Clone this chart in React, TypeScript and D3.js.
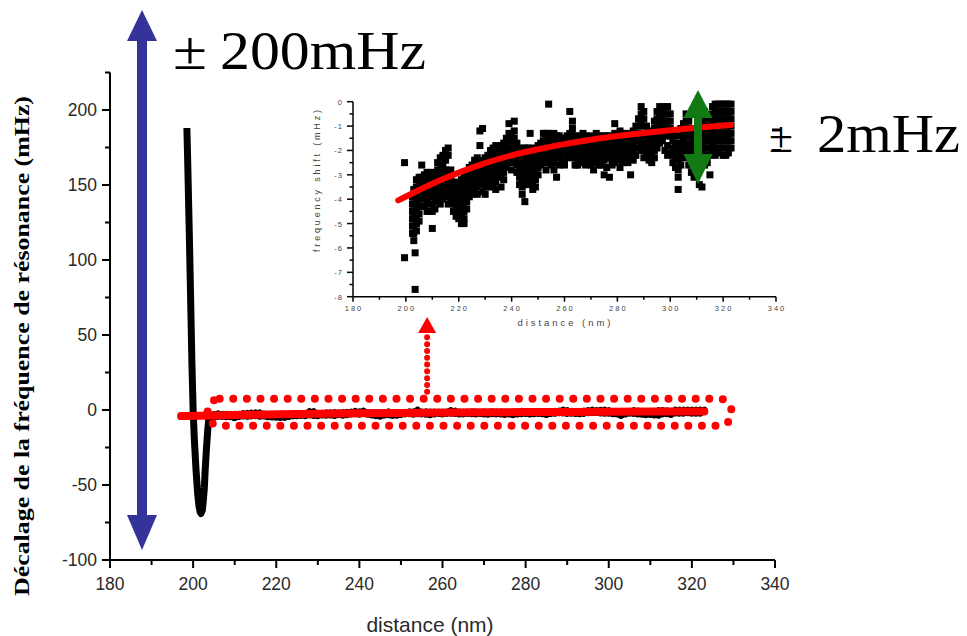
import React from "react";
import * as d3 from "d3";

// ---------- Main plot data (resonance frequency shift, mHz) ----------
const mainDist = [198.5, 198.7, 198.9, 199.1, 199.3, 199.5, 199.7, 200.0, 200.3, 200.7, 201.1, 201.4, 201.7, 201.9, 202.2, 202.4, 202.7, 202.9, 203.2, 203.5, 203.8];
const mainShift = [188, 165, 140, 115, 88, 60, 32, 0, -20, -40, -56, -64, -68, -69, -67, -62, -52, -40, -26, -14, -5];

// ---------- Inset scatter data: [distance nm, [frequency shift values mHz]] ----------
const insetColumns: [number, number[]][] = [
  [199.5, [-2.5, -6.4]],
  [202.5, [-3.9, -4.2, -4.5, -4.8, -5.1, -5.4]],
  [203, [-3.6, -3.9, -4.2, -4.5, -4.8, -5.1, -5.4, -5.7]],
  [203.5, [-6.2, -7.7]],
  [204, [-3.2, -3.5, -3.8, -4.1, -4.4, -4.7, -5.0, -5.3]],
  [205, [-3.1, -3.4, -3.7, -4.0, -4.3, -4.6, -4.9]],
  [206, [-2.6, -3.1, -3.4, -3.7, -4.0, -4.3]],
  [207, [-3.0, -3.3, -3.6, -3.9, -4.3]],
  [208, [-2.9, -3.2, -3.5, -3.8, -4.1, -4.5]],
  [209, [-2.9, -3.2, -3.5, -3.8, -4.2, -4.5]],
  [210, [-3.0, -3.3, -3.6, -3.9, -4.2, -4.5, -5.2]],
  [211, [-2.9, -3.2, -3.5, -3.8, -4.1, -4.4]],
  [212, [-2.5, -2.8, -3.1, -3.4, -3.7, -4.0]],
  [213, [-2.3, -2.6, -3.0, -3.3, -3.6, -3.9, -4.2]],
  [214, [-2.2, -2.6, -2.9, -3.2, -3.5, -3.8, -4.0]],
  [215, [-2.0, -2.4, -2.8, -3.1, -3.5, -3.8]],
  [216, [-1.9, -2.2, -3.0, -3.3, -3.6, -3.9, -4.2]],
  [217, [-2.8, -3.1, -3.4, -3.7, -4.0]],
  [218, [-3.3, -3.6, -3.9, -4.2, -4.5]],
  [219, [-3.5, -3.8, -4.1, -4.4, -4.7]],
  [220, [-3.3, -3.6, -3.9, -4.2, -4.5, -4.8]],
  [221, [-3.2, -3.5, -3.8, -4.1, -4.4, -4.7, -5.0]],
  [222, [-3.0, -3.3, -3.6, -3.9, -4.2, -4.5, -4.8, -5.0]],
  [223, [-2.9, -3.2, -3.5, -3.8, -4.1, -4.4]],
  [224, [-2.7, -3.0, -3.3, -3.6, -3.9]],
  [225, [-2.6, -2.9, -3.2, -3.5, -3.8]],
  [226, [-2.4, -2.7, -3.0, -3.3, -3.6]],
  [227, [-2.3, -2.6, -2.9, -3.2, -3.5, -3.8]],
  [228, [-1.2, -1.8, -2.4, -2.7, -3.0, -3.3]],
  [229, [-1.1, -2.5, -2.8, -3.1, -3.4, -3.7]],
  [230, [-2.3, -2.6, -2.9, -3.2, -3.5, -3.8]],
  [231, [-2.2, -2.5, -2.8, -3.1, -3.4]],
  [232, [-2.0, -2.3, -2.6, -2.9, -3.2, -3.5]],
  [233, [-1.9, -2.2, -2.5, -2.8, -3.1, -3.4]],
  [234, [-1.8, -2.1, -2.4, -2.7, -3.0, -3.3, -3.6]],
  [235, [-1.9, -2.2, -2.5, -2.8, -3.1]],
  [236, [-1.8, -2.1, -2.4, -2.7, -3.0, -3.5]],
  [237, [-1.7, -2.0, -2.3, -2.6, -2.9, -3.2]],
  [238, [-1.5, -1.8, -2.1, -2.4, -2.7]],
  [239, [-0.9, -1.3, -1.6, -1.9, -2.2, -2.5]],
  [240, [-1.3, -1.6, -1.9, -2.2, -2.5, -2.8]],
  [241, [-0.8, -1.2, -1.5, -1.8, -2.1, -2.4]],
  [242, [-1.7, -2.0, -2.3, -2.6, -2.9]],
  [243, [-1.9, -2.2, -2.5, -2.8, -3.1, -3.4]],
  [244, [-2.0, -2.3, -2.6, -2.9, -3.2, -3.5, -3.8]],
  [245, [-1.9, -2.2, -2.5, -2.8, -3.1, -3.4, -4.1]],
  [246, [-1.9, -2.2, -2.5, -2.8, -3.1, -3.4]],
  [247, [-1.3, -2.0, -2.3, -2.6, -2.9, -3.2]],
  [248, [-1.9, -2.2, -2.5, -2.8, -3.1, -3.4, -3.6]],
  [249, [-2.0, -2.3, -2.6, -2.9, -3.2, -3.5]],
  [250, [-1.8, -2.1, -2.4, -2.7, -3.0]],
  [251, [-1.7, -2.0, -2.3, -2.6]],
  [252, [-1.3, -1.6, -1.9, -2.2, -2.5]],
  [253, [-1.3, -1.6, -1.9, -2.2, -2.5, -2.8]],
  [254, [-0.1, -1.3, -1.6, -1.9, -2.2, -2.5]],
  [255, [-1.4, -1.7, -2.0, -2.3, -2.6]],
  [256, [-1.3, -1.6, -1.9, -2.2, -2.5, -2.8]],
  [257, [-1.4, -1.7, -2.0, -2.3, -3.1]],
  [258, [-1.4, -1.7, -2.0, -2.3, -2.6]],
  [259, [-1.5, -1.8, -2.1, -2.4]],
  [260, [-1.5, -1.8, -2.1, -2.4, -2.6]],
  [261, [-1.4, -1.7, -2.0, -2.3]],
  [262, [-0.4, -1.3, -1.6, -1.9, -2.2]],
  [263, [-0.8, -1.1, -1.4, -1.7, -2.0, -2.3]],
  [264, [-1.4, -1.7, -2.0, -2.3, -2.6]],
  [265, [-1.5, -1.8, -2.1, -2.4, -2.6]],
  [266, [-1.4, -1.7, -2.0, -2.3]],
  [267, [-1.3, -1.6, -1.9, -2.2, -2.5]],
  [268, [-1.4, -1.7, -2.0, -2.3, -2.6]],
  [269, [-1.5, -1.8, -2.1, -2.4]],
  [270, [-1.4, -1.7, -2.0, -2.3, -2.6]],
  [271, [-1.5, -1.8, -2.1, -2.4, -2.8]],
  [272, [-1.3, -1.6, -1.9, -2.2, -2.5]],
  [273, [-1.4, -1.7, -2.0, -2.3, -2.6]],
  [274, [-1.4, -1.7, -2.0, -2.3, -2.6]],
  [275, [-1.5, -1.8, -2.1, -2.4, -3.0]],
  [276, [-1.4, -1.7, -2.0, -2.3, -2.7]],
  [277, [-1.4, -1.7, -2.0, -2.3, -3.1]],
  [278, [-1.5, -1.8, -2.1, -2.4, -2.6]],
  [279, [-0.9, -1.3, -1.6, -1.9, -2.2, -2.5]],
  [280, [-1.4, -1.7, -2.0, -2.3]],
  [281, [-1.2, -1.5, -1.8, -2.1, -2.4, -2.7]],
  [282, [-1.3, -1.6, -1.9, -2.2, -2.5]],
  [283, [-1.4, -1.7, -2.0, -2.3]],
  [284, [-1.3, -1.6, -1.9, -2.2, -2.5]],
  [285, [-1.4, -1.7, -2.0, -2.3, -3.0]],
  [286, [-1.2, -1.5, -1.8, -2.1, -2.4]],
  [287, [-1.0, -1.3, -1.6, -1.9, -2.2]],
  [288, [-0.7, -1.0, -1.3, -1.6, -1.9]],
  [289, [-0.2, -0.5, -0.8, -1.4, -1.7, -2.0]],
  [290, [-0.4, -0.7, -1.0, -1.4, -1.7, -2.0, -2.3]],
  [291, [-1.0, -1.3, -1.6, -1.9, -2.2]],
  [292, [-1.2, -1.5, -1.8, -2.1, -2.4]],
  [293, [-1.3, -1.6, -1.9, -2.2, -2.5]],
  [294, [-0.8, -1.1, -1.4, -1.7, -2.0, -2.3]],
  [295, [-0.4, -0.7, -1.0, -1.3, -1.6, -1.9]],
  [296, [-0.2, -0.5, -0.8, -1.1, -1.4, -1.7]],
  [297, [-0.4, -0.7, -1.0, -1.3, -1.6]],
  [298, [-0.2, -0.5, -0.8, -1.1, -1.4, -2.0]],
  [299, [-0.2, -0.5, -0.8, -1.1, -1.4, -1.8, -2.2]],
  [300, [-0.5, -0.8, -1.1, -1.4, -2.1]],
  [301, [-1.3, -1.6, -1.9, -2.2, -2.5]],
  [302, [-1.4, -1.7, -2.0, -2.3, -2.7]],
  [303, [-1.8, -2.1, -2.4, -2.8, -3.1, -3.6]],
  [304, [-1.1, -1.4, -1.7, -2.0, -2.3, -2.6]],
  [305, [-0.9, -1.2, -1.5, -1.8, -2.1]],
  [306, [-0.5, -0.8, -1.1, -1.4, -1.7, -2.0, -2.3]],
  [307, [-0.8, -1.1, -1.4, -1.7, -2.0, -2.6]],
  [308, [-1.1, -1.4, -1.7, -2.0, -2.3, -2.6, -2.9]],
  [309, [-1.3, -1.6, -1.9, -2.2, -2.5, -2.8, -3.1]],
  [310, [-1.2, -1.5, -1.8, -2.1, -2.4, -2.7, -3.0]],
  [311, [-0.9, -1.2, -1.5, -1.8, -2.1, -2.4, -3.4]],
  [312, [-0.5, -0.8, -1.1, -1.4, -1.7, -2.0, -2.4, -3.5]],
  [313, [-0.4, -0.7, -1.0, -1.3, -1.6, -1.9, -2.2, -2.6]],
  [314, [-0.7, -1.0, -1.3, -1.6, -1.9, -2.2, -2.5]],
  [315, [-1.0, -1.3, -1.6, -1.9, -2.2, -3.0]],
  [316, [-0.2, -0.5, -0.8, -1.1, -1.4, -1.7, -2.0]],
  [317, [-0.1, -0.4, -0.7, -1.0, -1.3, -1.6, -1.9, -2.2]],
  [318, [-0.1, -0.4, -0.7, -1.0, -1.3, -1.6, -1.9, -2.1]],
  [319, [-0.1, -0.4, -0.7, -1.0, -1.3, -1.6, -1.9]],
  [320, [-0.1, -0.4, -0.7, -1.0, -1.3, -1.6, -1.9, -2.2]],
  [321, [-0.1, -0.4, -0.7, -1.0, -1.3, -1.6, -1.9, -2.2]],
  [322, [-0.1, -0.4, -0.7, -1.0, -1.3, -1.6, -1.9, -2.1]],
  [323, [-0.1, -0.4, -0.7, -1.0, -1.3, -1.6, -1.9]],
];

// ---------- Fit curve (red) ----------
const fitDist = [197.1, 205, 213, 221, 230, 240, 250, 260, 270, 280, 290, 300, 310, 323];
const fitShift = [-4.05, -3.62, -3.22, -2.87, -2.52, -2.2, -1.95, -1.74, -1.56, -1.41, -1.28, -1.17, -1.07, -0.96];

// ---------- Ticks ----------
const mainXMajor = [180, 200, 220, 240, 260, 280, 300, 320, 340];
const mainXMinor = [190, 210, 230, 250, 270, 290, 310, 330];
const mainYMajor = [-100, -50, 0, 50, 100, 150, 200];
const mainYMinor = [-75, -25, 25, 75, 125, 175, 225];
const insetYMajor = [0, -1, -2, -3, -4, -5, -6, -7, -8];
const insetYMinor = [-0.5, -1.5, -2.5, -3.5, -4.5, -5.5, -6.5, -7.5];

const yTitle = "Décalage de la fréquence de résonance (mHz)";
const xTitle = "distance (nm)";
const insetYTitle = "frequency shift (mHz)";

export default function App() {
  // main scales
  const x = d3.scaleLinear().domain([180, 340]).range([110, 775]);
  const y = d3.scaleLinear().domain([-100, 225]).range([560, 72.5]);
  // inset scales
  const xi = d3.scaleLinear().domain([180, 340]).range([353, 776]);
  const yi = d3.scaleLinear().domain([-8, 0]).range([296.7, 101.7]);

  const insetPts: [number, number][] = [];
  insetColumns.forEach(([d, vs]) => vs.forEach((v) => insetPts.push([d, v])));
  const tail = insetPts.filter((p) => p[0] > 204);

  const mainPts: [number, number][] = mainDist.map((d, i) => [d, mainShift[i]]);
  const mainAll = mainPts.concat(tail);
  const fitPts: [number, number][] = fitDist.map((d, i) => [d, fitShift[i]]);

  const mainLine = d3.line<[number, number]>().x((d) => x(d[0])).y((d) => y(d[1]));
  const mainFit = d3.line<[number, number]>().x((d) => x(d[0])).y((d) => y(d[1])).curve(d3.curveMonotoneX);
  const insetFit = d3.line<[number, number]>().x((d) => xi(d[0])).y((d) => yi(d[1])).curve(d3.curveMonotoneX);

  const sans = "'Liberation Sans', Arial, sans-serif";
  const serif = "'Liberation Serif', 'Times New Roman', serif";
  const tickCol = "#2a2a2a";

  // annotation geometry derived from scales
  const rx0 = x(203.5), rx1 = x(329.5), ry0 = y(7.5), ry1 = y(-10.5);
  const ax = x(256.3);
  const bx = x(187.7);
  const gx = xi(310.5);

  return (
    <svg width={967} height={636} style={{ position: "absolute", left: 0, top: 0, background: "#fff" }}>
      <rect x={0} y={0} width={967} height={636} fill="#fff" />

      {/* ---------- Main axes ---------- */}
      <g stroke="#000" strokeWidth={2}>
        <line x1={x(180)} x2={x(340)} y1={y(-100)} y2={y(-100)} />
        <line x1={x(180)} x2={x(180)} y1={y(-100)} y2={y(225)} />
        {mainXMajor.map((t) => (
          <line key={"xM" + t} x1={x(t)} x2={x(t)} y1={y(-100)} y2={y(-100) + 8} />
        ))}
        {mainXMinor.map((t) => (
          <line key={"xm" + t} x1={x(t)} x2={x(t)} y1={y(-100)} y2={y(-100) + 5} />
        ))}
        {mainYMajor.map((t) => (
          <line key={"yM" + t} x1={x(180) - 8} x2={x(180)} y1={y(t)} y2={y(t)} />
        ))}
        {mainYMinor.map((t) => (
          <line key={"ym" + t} x1={x(180) - 5} x2={x(180)} y1={y(t)} y2={y(t)} />
        ))}
      </g>
      <g fontFamily={sans} fontSize={17.5} fill={tickCol}>
        {mainXMajor.map((t) => (
          <text key={"xl" + t} x={x(t)} y={y(-100) + 30} textAnchor="middle">{t}</text>
        ))}
        {mainYMajor.map((t) => (
          <text key={"yl" + t} x={x(180) - 13} y={y(t) + 6} textAnchor="end">{t}</text>
        ))}
        <text x={430} y={632} textAnchor="middle" fontSize={21}>{xTitle}</text>
      </g>
      <text
        transform="translate(29,346) rotate(-90)"
        textAnchor="middle"
        fontFamily={serif}
        fontWeight="bold"
        fontSize={22}
        textLength={500}
        lengthAdjust="spacingAndGlyphs"
        fill="#000"
      >
        {yTitle}
      </text>

      {/* ---------- Main data ---------- */}
      <path d={mainLine(mainAll) || ""} fill="none" stroke="#000" strokeWidth={7} strokeLinejoin="round" />
      <path d={mainFit(fitPts) || ""} fill="none" stroke="#ff0000" strokeWidth={8} strokeLinecap="round" />

      {/* ---------- Inset ---------- */}
      <g stroke="#000" strokeWidth={1.5}>
        <line x1={xi(180)} x2={xi(340)} y1={yi(-8)} y2={yi(-8)} />
        <line x1={xi(180)} x2={xi(180)} y1={yi(-8)} y2={yi(0)} />
        {mainXMajor.map((t) => (
          <line key={"ixM" + t} x1={xi(t)} x2={xi(t)} y1={yi(-8)} y2={yi(-8) + 5} />
        ))}
        {mainXMinor.map((t) => (
          <line key={"ixm" + t} x1={xi(t)} x2={xi(t)} y1={yi(-8)} y2={yi(-8) + 3} />
        ))}
        {insetYMajor.map((t) => (
          <line key={"iyM" + t} x1={xi(180) - 6} x2={xi(180)} y1={yi(t)} y2={yi(t)} />
        ))}
        {insetYMinor.map((t) => (
          <line key={"iym" + t} x1={xi(180) - 3.5} x2={xi(180)} y1={yi(t)} y2={yi(t)} />
        ))}
      </g>
      <g fontFamily={sans} fontSize={7.5} fill="#444" letterSpacing={2}>
        {mainXMajor.map((t) => (
          <text key={"ixl" + t} x={xi(t) + 1} y={yi(-8) + 14} textAnchor="middle">{t}</text>
        ))}
        {insetYMajor.map((t) => (
          <text key={"iyl" + t} x={xi(180) - 10} y={yi(t) + 3} textAnchor="end" letterSpacing={1}>{t}</text>
        ))}
        <text x={565} y={326} textAnchor="middle" fontSize={9.5} textLength={95} lengthAdjust="spacing">{xTitle}</text>
        <text transform="translate(320,180) rotate(-90)" textAnchor="middle" fontSize={9} textLength={144} lengthAdjust="spacing">{insetYTitle}</text>
      </g>
      {/* legend remnants */}
      <g stroke="#000" strokeWidth={3}>
        <line x1={772} x2={781} y1={130} y2={130} />
        <line x1={772} x2={781} y1={150.5} y2={150.5} />
      </g>
      <g fill="#000">
        {insetPts.map((p, i) => (
          <rect key={"ip" + i} x={xi(p[0]) - 3.5} y={yi(p[1]) - 3.5} width={7} height={7} />
        ))}
      </g>
      <path d={insetFit(fitPts) || ""} fill="none" stroke="#ff0000" strokeWidth={6} strokeLinecap="round" />

      {/* ---------- Annotations ---------- */}
      <rect
        x={rx0}
        y={ry0}
        width={rx1 - rx0}
        height={ry1 - ry0}
        rx={12}
        fill="none"
        stroke="#ff0000"
        strokeWidth={8}
        strokeDasharray="0 13.6"
        strokeLinecap="round"
      />
      <line x1={ax} x2={ax} y1={ry0 - 7} y2={334} stroke="#ff0000" strokeWidth={6} strokeDasharray="0 6.8" strokeLinecap="round" />
      <path d={`M${ax - 9},333 L${ax + 9},333 L${ax},317 Z`} fill="#ff0000" />

      <g fill="#333399">
        <rect x={bx - 5} y={38} width={10} height={480} />
        <path d={`M${bx - 15},41 L${bx + 15},41 L${bx},10 Z`} />
        <path d={`M${bx - 15},515 L${bx + 15},515 L${bx},550 Z`} />
      </g>

      <g fill="#127a12">
        <rect x={gx - 4} y={115} width={8} height={42} />
        <path d={`M${gx - 14.5},118 L${gx + 14.5},118 L${gx},90 Z`} />
        <path d={`M${gx - 14.5},154 L${gx + 14.5},154 L${gx},184 Z`} />
      </g>

      <g fontFamily={serif} fill="#000">
        <text x={173} y={69} fontSize={54} textLength={34} lengthAdjust="spacingAndGlyphs">±</text>
        <text x={220} y={69} fontSize={54} textLength={206} lengthAdjust="spacingAndGlyphs">200mHz</text>
        <text x={769} y={152} fontSize={44} textLength={24} lengthAdjust="spacingAndGlyphs">±</text>
        <text x={817} y={152} fontSize={54} textLength={143} lengthAdjust="spacingAndGlyphs">2mHz</text>
      </g>
    </svg>
  );
}
